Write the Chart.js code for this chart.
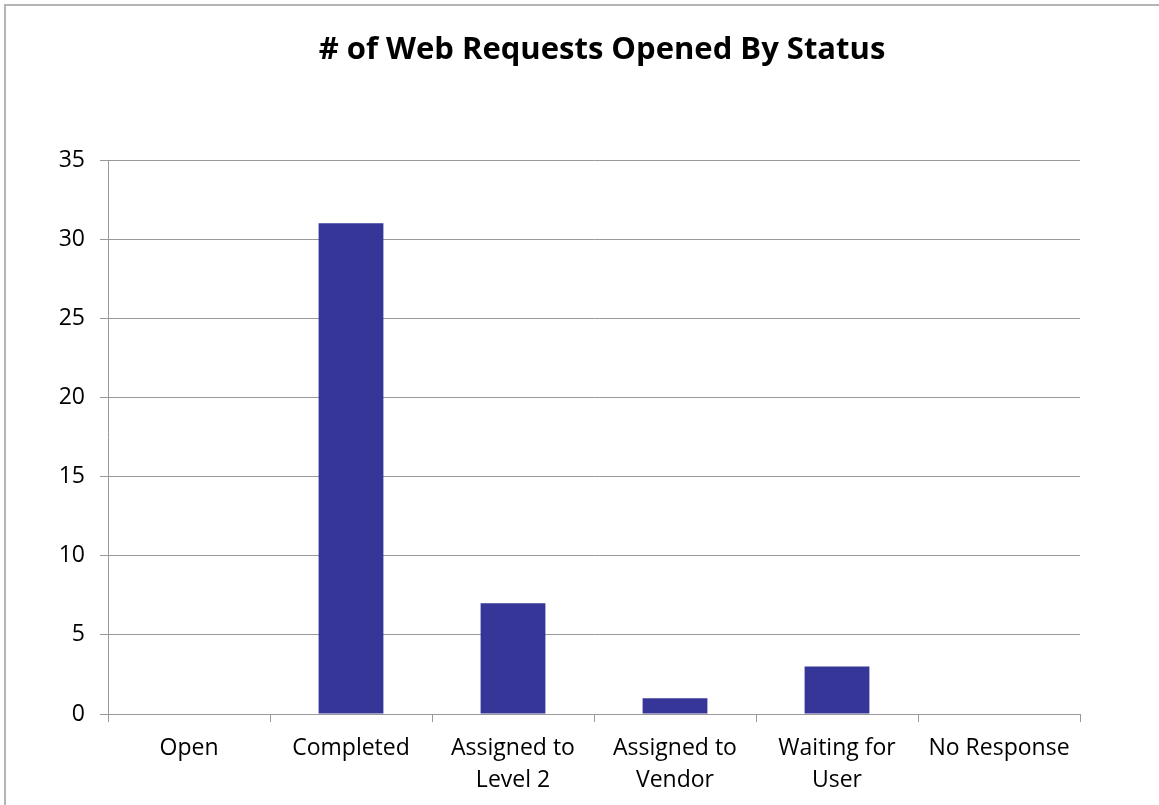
<!DOCTYPE html>
<html>
<head>
<meta charset="utf-8">
<script src="https://cdn.jsdelivr.net/npm/chart.js@4/dist/chart.umd.min.js"></script>
<style>
  html, body { margin: 0; padding: 0; background: #fff; }
  #wrap { width: 1159px; height: 805px; position: relative; }
</style>
</head>
<body>
<div id="wrap"><canvas id="c" width="1159" height="805"></canvas></div>
<script>
const categories = ['Open', 'Completed', ['Assigned to', 'Level 2'], ['Assigned to', 'Vendor'], ['Waiting for', 'User'], 'No Response'];
const requestCounts = [0, 31, 7, 1, 3, 0];
const yTicks = [0, 5, 10, 15, 20, 25, 30, 35];
const chartTitle = '# of Web Requests Opened By Status';

const FONT = "'Open Sans', sans-serif";

const framePlugin = {
  id: 'frame',
  beforeDraw(chart) {
    const ctx = chart.ctx;
    ctx.save();
    ctx.fillStyle = '#ffffff';
    ctx.fillRect(0, 0, chart.width, chart.height);
    ctx.strokeStyle = '#b4b4b4';
    ctx.lineWidth = 2;
    ctx.beginPath();
    ctx.moveTo(5, chart.height + 5);
    ctx.lineTo(5, 5);
    ctx.lineTo(chart.width + 5, 5);
    ctx.stroke();
    ctx.restore();
  },
  afterDraw(chart) {
    const ctx = chart.ctx;
    ctx.save();
    ctx.fillStyle = '#000';
    ctx.font = "bold 31px 'Open Sans', sans-serif";
    ctx.textAlign = 'center';
    ctx.textBaseline = 'middle';
    ctx.fillText(chartTitle, 602, 50);
    ctx.restore();
  }
};

new Chart(document.getElementById('c'), {
  type: 'bar',
  data: {
    labels: categories,
    datasets: [{
      data: requestCounts,
      backgroundColor: '#363699',
      borderWidth: 0,
      categoryPercentage: 1.0,
      barPercentage: 0.4
    }]
  },
  options: {
    responsive: false,
    animation: false,
    devicePixelRatio: 1,
    layout: { padding: { left: 0, right: 79, top: 160, bottom: 0 } },
    plugins: {
      legend: { display: false },
      tooltip: { enabled: false },
      title: { display: false }
    },
    scales: {
      x: {
        grid: { display: true, drawOnChartArea: false, offset: true, tickLength: 8, color: '#999' },
        border: { display: true, color: '#999' },
        ticks: {
          color: '#000',
          font: { family: FONT, size: 23, lineHeight: 1.39 },
          padding: 10,
          maxRotation: 0,
          autoSkip: false
        },
        afterFit(scale) { scale.height = 805 - 160 - 554 ; }
      },
      y: {
        min: 0,
        max: 35,
        afterBuildTicks(scale) { scale.ticks = yTicks.map(v => ({ value: v })); },
        grid: { color: '#999', tickLength: 8, drawTicks: true },
        border: { display: true, color: '#999' },
        ticks: {
          color: '#000',
          font: { family: FONT, size: 23 },
          padding: 15
        },
        afterFit(scale) { scale.width = 108; }
      }
    }
  },
  plugins: [framePlugin]
});
</script>
</body>
</html>
